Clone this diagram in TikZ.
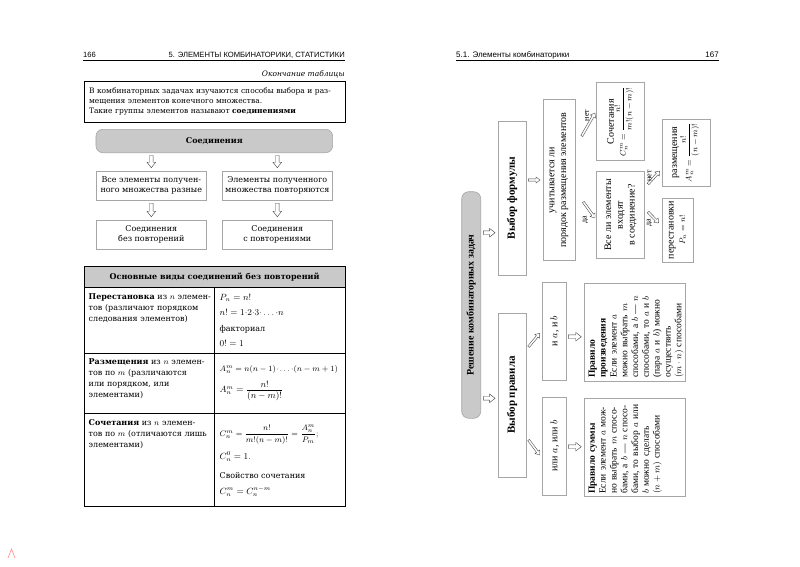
\documentclass[tikz,border=0pt]{standalone}
\usepackage{fontspec}
\setmainfont{DejaVu Serif}
\newfontfamily\rtfont{Liberation Serif}
\newfontfamily\hdfont{Liberation Sans}
\usetikzlibrary{arrows.meta,shadows,calc}
\newcommand\fLeft{\fontsize{8}{10.2}\selectfont}
\newcommand\fIntro{\fontsize{7.5}{10.2}\selectfont}
\newcommand\fTab{\fontsize{8}{11}\selectfont}
\newcommand\fTabM{\fontsize{8.8}{11}\selectfont}
\newcommand\fHdr{\hdfont\fontsize{7.6}{8}\selectfont}
\newcommand\fHdrR{\hdfont\fontsize{8}{8}\selectfont}
\newcommand\fRt{\rtfont\fontsize{10}{11.7}\selectfont}
\newcommand\fRtB{\rtfont\fontsize{11}{12}\selectfont\bfseries}
\newcommand\fRsm{\rtfont\fontsize{9.5}{10.8}\selectfont}
\newcommand\fRmath{\fontsize{8.5}{10}\selectfont}
% hollow arrow from #2 to #3 drawn with pic #1
\newcommand\hArr[3]{\path let \p1=#2, \p2=#3, \n1={atan2(\y2-\y1,\x2-\x1)}, \n2={veclen(\x2-\x1,\y2-\y1)} in (\p1) pic[rotate=\n1] {#1=\n2};}
\tikzset{
  lbox/.style={draw=gray!70, line width=0.5pt, fill=white, align=center, inner sep=1pt, font=\fLeft,
    drop shadow={shadow xshift=0.8pt, shadow yshift=-0.8pt, fill=gray!50, opacity=1}},
  gbox/.style={draw=gray!70, line width=0.6pt, fill=gray!42, rounded corners=7pt, align=center},
  rbox/.style={draw=gray!70, line width=0.5pt, fill=white, rotate=90, align=center, inner sep=1pt, font=\fRt},
  pics/hbig/.style={code={\draw[draw=black!70, line width=0.45pt, fill=white, line join=miter]
     (0,-1.8) -- ({#1-5.5},-1.8) -- ({#1-5.5},-4.3) -- (#1,0) -- ({#1-5.5},4.3) -- ({#1-5.5},1.8) -- (0,1.8) -- cycle;}},
  pics/hsmall/.style={code={\draw[draw=black!70, line width=0.4pt, fill=white, line join=miter]
     (0,-1.1) -- ({#1-4},-1.1) -- ({#1-4},-3) -- (#1,0) -- ({#1-4},3) -- ({#1-4},1.1) -- (0,1.1) -- cycle;}},
  lab/.style={rotate=90, font=\rtfont\fontsize{8}{9}\selectfont, inner sep=0.5pt},
  cell/.style={inner sep=0, font=\fTab}
}
\begin{document}
\begin{tikzpicture}[x=1pt,y=-1pt]
\useasboundingbox[fill=white] (0,0) rectangle (800,566);

% ---------- left page ----------
\node[anchor=west, font=\fHdr, inner sep=0] (pnl) at (83,55) {166};
\node[anchor=east, font=\fHdr, inner sep=0] (hdl) at (345,55) {5. ЭЛЕМЕНТЫ КОМБИНАТОРИКИ, СТАТИСТИКИ};
\draw[line width=0.5pt] (83,59.8) -- (345,59.8);
\node[anchor=east, font=\fontsize{7.5}{8}\selectfont\itshape, inner sep=0] (cont) at (345,74) {Окончание таблицы};

\node[draw, line width=0.8pt, anchor=north west, text width=252pt, inner xsep=4.3pt,
  minimum height=41pt, align=left, font=\fIntro] (intro) at (84.3,80.7)
  {В комбинаторных задачах изучаются способы выбора и раз-\\мещения элементов конечного множества.\\Такие группы элементов называют \textbf{соединениями}};

\node[gbox, minimum width=236.7pt, minimum height=23.4pt, font=\fLeft\bfseries] (sj) at (214.3,141) {Соединения};

\node[lbox, minimum width=110.7pt, minimum height=29pt] (ba) at (151.3,185.5) {Все элементы получен-\\ного множества разные};
\node[lbox, minimum width=109.3pt, minimum height=29pt] (bb) at (277.3,185.5) {Элементы полученного\\множества повторяются};
\node[lbox, minimum width=110.7pt, minimum height=29pt] (bc) at (151.3,234.5) {Соединения\\без повторений};
\node[lbox, minimum width=109.3pt, minimum height=29pt] (bd) at (277.3,234.5) {Соединения\\с повторениями};

\hArr{hbig}{($(sj.south -| ba)+(0,2.5)$)}{($(ba.north)+(0,-3)$)}
\hArr{hbig}{($(sj.south -| bb)+(0,2.5)$)}{($(bb.north)+(0,-3)$)}
\hArr{hbig}{($(ba.south)+(0,3)$)}{($(bc.north)+(0,-3)$)}
\hArr{hbig}{($(bb.south)+(0,3)$)}{($(bd.north)+(0,-3)$)}

% table
\draw[line width=0.8pt, fill=gray!42] (84.3,266) rectangle (345,287.3);
\node[font=\fLeft\bfseries] (th) at (214.6,276.7) {Основные виды соединений без повторений};
\draw[line width=0.8pt] (84.3,287.3) rectangle (345,506.7);
\draw[line width=0.6pt] (214.3,287.3) -- (214.3,506.7) (84.3,353.3) -- (345,353.3) (84.3,413.3) -- (345,413.3);

\node[cell, anchor=north west, text width=124pt, align=left] (r1l) at (88.5,293.5)
  {\textbf{Перестановка} из $n$ элемен-\\тов (различают порядком\\следования элементов)};
\node[cell, anchor=north west, text width=124pt, align=left] (r2l) at (88.5,358.8)
  {\textbf{Размещения} из $n$ элемен-\\тов по $m$ (различаются\\или порядком, или\\элементами)};
\node[cell, anchor=north west, text width=124pt, align=left] (r3l) at (88.5,419.5)
  {\textbf{Сочетания} из $n$ элемен-\\тов по $m$ (отличаются лишь\\элементами)};

\node[cell, anchor=base west, font=\fTabM] (f1) at (219.5,300.8) {$P_n=n!$};
\node[cell, anchor=base west, font=\fTabM] (f2) at (219.5,315.8) {$n!=1{\cdot}2{\cdot}3{\cdot}\ldots{\cdot}n$};
\node[cell, anchor=base west] (f3) at (219.5,331.5) {факториал};
\node[cell, anchor=base west, font=\fTabM] (f4) at (219.5,346) {$0!=1$};
\node[cell, anchor=base west, font=\fontsize{8.3}{11}\selectfont] (f5) at (219.5,371.5) {$A_n^m=n(n-1){\cdot}\ldots{\cdot}(n-m+1)$};
\node[cell, anchor=west, font=\fTabM] (f6) at (219.5,391) {$A_n^m=\displaystyle\frac{n!}{(n-m)!}$};
\node[cell, anchor=west] (f7) at (219.5,434.5) {$C_n^m=\displaystyle\frac{n!}{m!(n-m)!}=\frac{A_n^m}{P_m};$};
\node[cell, anchor=base west, font=\fTabM] (f8) at (219.5,459.5) {$C_n^0=1.$};
\node[cell, anchor=base west] (f9) at (219.5,478.5) {Свойство сочетания};
\node[cell, anchor=base west, font=\fTabM] (f10) at (219.5,494.5) {$C_n^m=C_n^{n-m}$};

% watermark
\draw[red!45, line width=0.6pt] (8,558) -- (11.5,549) -- (15,558);

% ---------- right page ----------
\node[anchor=west, font=\fHdrR, inner sep=0] (hdr) at (456,55) {5.1. Элементы комбинаторики};
\node[anchor=east, font=\fHdrR, inner sep=0] (pnr) at (719,55) {167};
\draw[line width=0.5pt] (456,59.8) -- (719,59.8);

\node[gbox, rotate=90, minimum width=226.6pt, minimum height=19pt, inner sep=1pt,
  font=\rtfont\fontsize{10}{12}\selectfont\bfseries] (root) at (471.2,305) {Решение комбинаторных задач};

\node[rbox, minimum width=154.3pt, minimum height=27.7pt, font=\fRtB] (formula) at (512.2,197.9) {Выбор формулы};
\node[rbox, minimum width=163.7pt, minimum height=27.7pt, font=\fRtB] (rule) at (512.2,394.9) {Выбор правила};

\node[rbox, minimum width=161.4pt, minimum height=32.3pt] (order) at (558.9,180) {учитывается ли\\порядок размещения элементов};
\node[rbox, minimum width=78pt, minimum height=47.6pt] (soch) at (620.5,121.7) {Сочетания\\{\fRmath$C_n^m=\displaystyle\frac{n!}{m!(n-m)!}$}};
\node[rbox, minimum width=86.6pt, minimum height=47.6pt] (vse) at (620.5,215) {Все ли элементы\\входят\\в соединение?};
\node[rbox, minimum width=67pt, minimum height=48pt] (razm) at (686,152.5) {размещения\\{\fRmath$A_n^m=\displaystyle\frac{n!}{(n-m)!}$}};
\node[rbox, minimum width=64pt, minimum height=31pt] (perest) at (677.5,230) {перестановки\\{\fRmath$P_n=n!$}};

\node[rbox, minimum width=98.3pt, minimum height=24pt] (andb) at (554.7,330.9) {и $a$, и $b$};
\node[rbox, minimum width=98.3pt, minimum height=24pt] (orb) at (554.7,445.9) {или $a$, или $b$};
\node[rbox, minimum width=98.3pt, minimum height=101pt] (prod) at (634.5,331.9) {};
\node[rbox, minimum width=98.4pt, minimum height=101pt] (sum) at (634.5,447.5) {};
\node[rotate=90, anchor=north west, text width=92pt, align=left, inner sep=0, font=\fRsm] (prodt) at (588.5,378)
  {\textbf{Правило}\\\textbf{произведения}\\Если элемент $a$\\можно выбрать $m$\\способами, а $b$ — $n$\\способами, то $a$ и $b$\\(пара $a$ и $b$) можно\\осуществить\\$(m\cdot n)$ способами};
\node[rotate=90, anchor=north west, text width=92pt, align=left, inner sep=0, font=\fRsm] (sumt) at (588.5,494)
  {\textbf{Правило суммы}\\Если элемент $a$ мож-\\но выбрать $m$ спосо-\\бами, а $b$ — $n$ спосо-\\бами, то выбор $a$ или\\$b$ можно сделать\\$(n+m)$ способами};

% connectors right page
\coordinate (ya) at (0,232.7);
\coordinate (yb) at (0,398.3);
\hArr{hbig}{($(root.south |- ya)+(2.3,0)$)}{($(formula.north |- ya)+(-3,0)$)}
\hArr{hbig}{($(root.south |- yb)+(2.3,0)$)}{($(rule.north |- yb)+(-3,0)$)}
\hArr{hsmall}{($(formula.south |- order.center)+(2,0)$)}{($(order.north)+(-2.5,0)$)}

\hArr{hsmall}{($(order.south |- 0,136)+(6.5,0)$)}{($(soch.north |- 0,113)+(-1.5,0)$)}
\node[lab] (lnet1) at (587,115.5) {нет};
\hArr{hsmall}{($(order.south |- 0,202)+(8,0)$)}{($(vse.north |- 0,218)+(-1.5,0)$)}
\node[lab] (lda1) at (585.5,220) {да};
\hArr{hsmall}{($(vse.south |- 0,184)+(3.5,0)$)}{($(razm.north |- 0,171)+(-2,0)$)}
\node[lab] (lnet2) at (649.5,176) {нет};
\hArr{hsmall}{($(vse.south |- 0,212)+(3.5,0)$)}{($(perest.north |- 0,223)+(-3,0)$)}
\node[lab] (lda2) at (649.5,223) {да};

\hArr{hsmall}{($(rule.south |- 0,346.7)+(2.3,0)$)}{($(andb.north |- 0,333.3)+(-2.7,0)$)}
\hArr{hsmall}{($(rule.south |- 0,440)+(2.3,0)$)}{($(orb.north |- 0,455)+(-2.7,0)$)}
\hArr{hbig}{($(andb.south |- 0,336.7)+(1.5,0)$)}{($(prod.north |- 0,336.7)+(-2.5,0)$)}
\hArr{hbig}{($(orb.south |- 0,446.7)+(1.5,0)$)}{($(sum.north |- 0,446.7)+(-2.5,0)$)}
\end{tikzpicture}
\end{document}
